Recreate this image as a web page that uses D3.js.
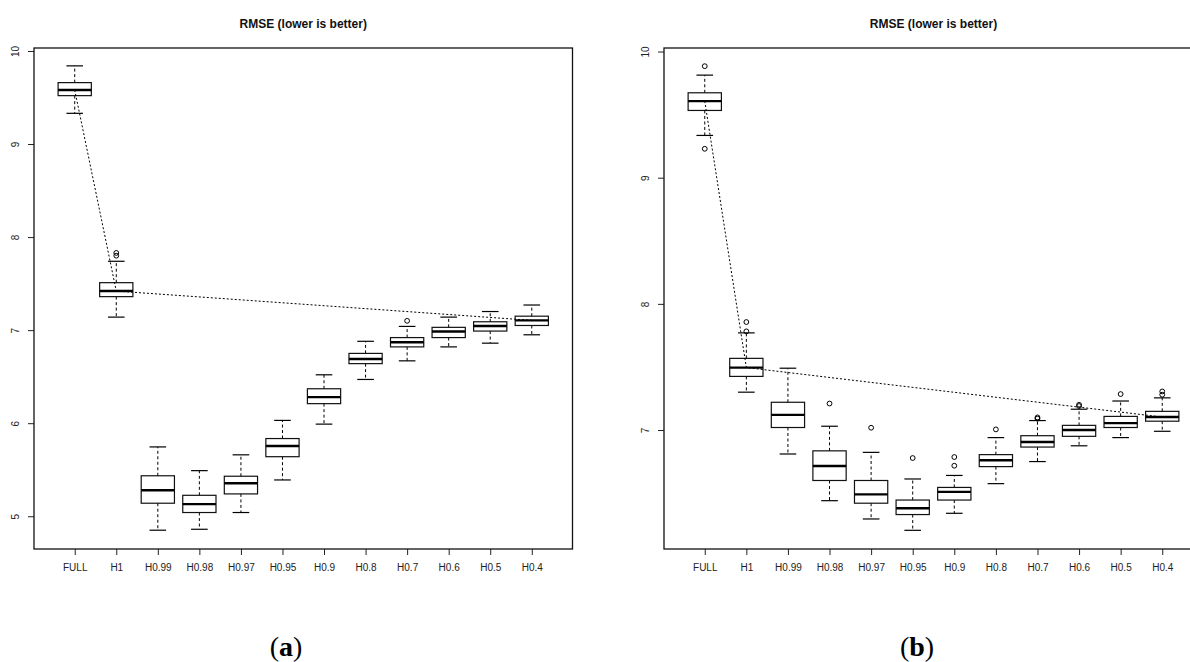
<!DOCTYPE html>
<html>
<head>
<meta charset="utf-8">
<script src="https://cdn.jsdelivr.net/npm/d3@7/dist/d3.min.js"></script>
<style>
    body { margin: 0; background: #fff; }
    svg text { font-family: "Liberation Sans", Arial, Helvetica, sans-serif; }
</style>
</head>
<body>
<div id="chart"></div>
<script>
// categories on the x axis (same for both panels)
const categories = ["FULL", "H1", "H0.99", "H0.98", "H0.97", "H0.95", "H0.9", "H0.8", "H0.7", "H0.6", "H0.5", "H0.4"];

// the dotted line joins the medians of these boxes
const trendCats = ["FULL", "H1", "H0.4"];

// panel (a)
const aTicks = [5, 6, 7, 8, 9, 10];
const aLow = [9.33, 7.14, 4.85, 4.86, 5.04, 5.39, 5.99, 6.47, 6.67, 6.82, 6.86, 6.95];
const aQ1 = [9.52, 7.36, 5.14, 5.04, 5.24, 5.64, 6.21, 6.64, 6.82, 6.92, 6.99, 7.05];
const aMed = [9.58, 7.42, 5.28, 5.13, 5.355, 5.755, 6.28, 6.69, 6.87, 6.985, 7.045, 7.105];
const aQ3 = [9.66, 7.51, 5.435, 5.225, 5.43, 5.835, 6.37, 6.75, 6.92, 7.03, 7.09, 7.15];
const aHigh = [9.84, 7.74, 5.745, 5.49, 5.66, 6.03, 6.52, 6.88, 7.04, 7.14, 7.2, 7.27];
const aOut = [[], [7.83, 7.80], [], [], [], [], [], [], [7.10], [], [], []];

// panel (b)
const bTicks = [7, 8, 9, 10];
const bLow = [9.335, 7.30, 6.81, 6.44, 6.295, 6.205, 6.34, 6.575, 6.75, 6.875, 6.94, 6.99];
const bQ1 = [9.533, 7.425, 7.02, 6.60, 6.42, 6.33, 6.445, 6.71, 6.865, 6.95, 7.02, 7.07];
const bMed = [9.607, 7.495, 7.12, 6.715, 6.49, 6.38, 6.51, 6.76, 6.905, 7.0, 7.055, 7.103];
const bQ3 = [9.673, 7.568, 7.22, 6.835, 6.60, 6.445, 6.545, 6.805, 6.955, 7.037, 7.108, 7.148];
const bHigh = [9.813, 7.77, 7.49, 7.03, 6.823, 6.612, 6.64, 6.94, 7.075, 7.165, 7.23, 7.255];
const bOut = [[9.884, 9.229], [7.856, 7.782], [], [7.21], [7.018], [6.778], [6.786, 6.717], [7.005], [7.10, 7.09], [7.20, 7.19], [7.285], [7.306, 7.28]];

const title = "RMSE (lower is better)";

const width = 1190, height = 662;

const svg = d3.select("#chart").append("svg")
    .attr("width", width)
    .attr("height", height);

function drawPanel(cfg, ticks, low, q1, med, q3, high, outs) {

    const g = svg.append("g");

    const x = d3.scalePoint()
        .domain(categories)
        .range([cfg.left, cfg.right])
        .padding(0.98);   // R boxplot: 0.5 margin + 4% extension

    const y = d3.scaleLinear()
        .domain(cfg.yDomain)
        .range([cfg.bottom, cfg.top]);

    const boxW = x.step() * 0.8;
    const capW = boxW * 0.5;

    const rows = categories.map((c, i) => ({
        cat: c, low: low[i], q1: q1[i], med: med[i], q3: q3[i], high: high[i], out: outs[i]
    }));

    // title
    g.append("text")
        .attr("x", (cfg.left + cfg.right) / 2)
        .attr("y", 27.5)
        .attr("text-anchor", "middle")
        .attr("font-weight", "bold")
        .attr("font-size", "12px")
        .attr("fill", "#111")
        .text(title);

    // y axis
    const yAxis = g.append("g")
        .attr("transform", "translate(" + cfg.left + ",0)")
        .call(d3.axisLeft(y).tickValues(ticks).tickSize(6).tickSizeOuter(0).tickFormat(d3.format("d")));
    yAxis.select(".domain").remove();
    yAxis.selectAll("line").attr("stroke", "#222");
    yAxis.selectAll("text")
        .attr("transform", "rotate(-90)")
        .attr("x", 0)
        .attr("y", -18.5)
        .attr("dy", "0.35em")
        .attr("text-anchor", "middle")
        .attr("font-size", "10px")
        .attr("fill", "#222");

    // x axis
    const xAxis = g.append("g")
        .attr("transform", "translate(0," + cfg.bottom + ")")
        .call(d3.axisBottom(x).tickSize(6).tickSizeOuter(0));
    xAxis.select(".domain").remove();
    xAxis.selectAll("line").attr("stroke", "#222");
    xAxis.selectAll("text")
        .attr("y", 18.3)
        .attr("dy", "0.35em")
        .attr("font-size", "10px")
        .attr("fill", "#222");

    // frame
    g.append("rect")
        .attr("x", cfg.left)
        .attr("y", cfg.top)
        .attr("width", cfg.right - cfg.left)
        .attr("height", cfg.bottom - cfg.top)
        .attr("fill", "none")
        .attr("stroke", "#111")
        .attr("stroke-width", 1.3);

    const box = g.selectAll(".box").data(rows).enter()
        .append("g")
        .attr("class", "box")
        .attr("transform", (d) => "translate(" + x(d.cat) + ",0)");

    // whiskers (dashed)
    box.append("line")
        .attr("x1", 0).attr("x2", 0)
        .attr("y1", (d) => y(d.q3)).attr("y2", (d) => y(d.high))
        .attr("stroke", "#000").attr("stroke-dasharray", "3,2.5");
    box.append("line")
        .attr("x1", 0).attr("x2", 0)
        .attr("y1", (d) => y(d.q1)).attr("y2", (d) => y(d.low))
        .attr("stroke", "#000").attr("stroke-dasharray", "3,2.5");

    // staples
    box.append("line")
        .attr("x1", -capW / 2).attr("x2", capW / 2)
        .attr("y1", (d) => y(d.high)).attr("y2", (d) => y(d.high))
        .attr("stroke", "#000").attr("stroke-width", 1.2);
    box.append("line")
        .attr("x1", -capW / 2).attr("x2", capW / 2)
        .attr("y1", (d) => y(d.low)).attr("y2", (d) => y(d.low))
        .attr("stroke", "#000").attr("stroke-width", 1.2);

    // boxes
    box.append("rect")
        .attr("x", -boxW / 2)
        .attr("width", boxW)
        .attr("y", (d) => y(d.q3))
        .attr("height", (d) => y(d.q1) - y(d.q3))
        .attr("fill", "none")
        .attr("stroke", "#111")
        .attr("stroke-width", 1.2);

    // medians
    box.append("line")
        .attr("x1", -boxW / 2).attr("x2", boxW / 2)
        .attr("y1", (d) => y(d.med)).attr("y2", (d) => y(d.med))
        .attr("stroke", "#000").attr("stroke-width", 2.4);

    // outliers
    box.selectAll("circle")
        .data((d) => d.out)
        .enter()
        .append("circle")
        .attr("cx", 0)
        .attr("cy", (v) => y(v))
        .attr("r", 2.4)
        .attr("fill", "none")
        .attr("stroke", "#000")
        .attr("stroke-width", 1);

    // dotted trend line
    const trend = trendCats.map((c) => rows.find((r) => r.cat === c));
    g.append("path")
        .datum(trend)
        .attr("d", d3.line().x((d) => x(d.cat)).y((d) => y(d.med)))
        .attr("fill", "none")
        .attr("stroke", "#000")
        .attr("stroke-width", 1)
        .attr("stroke-dasharray", "2,2");

    // panel caption
    const cap = svg.append("text")
        .attr("x", cfg.captionX)
        .attr("y", 655.5)
        .attr("text-anchor", "middle")
        .attr("font-size", "28px")
        .style("font-family", "'Liberation Serif', 'Times New Roman', serif");
    cap.append("tspan").text("(");
    cap.append("tspan").attr("font-weight", "bold").text(cfg.caption);
    cap.append("tspan").text(")");
}

drawPanel({ left: 34, right: 572.5, top: 48, bottom: 549, yDomain: [4.648, 10.032], caption: "a", captionX: 286 },
    aTicks, aLow, aQ1, aMed, aQ3, aHigh, aOut);

drawPanel({ left: 664, right: 1203, top: 48, bottom: 549, yDomain: [6.057, 10.028], caption: "b", captionX: 917 },
    bTicks, bLow, bQ1, bMed, bQ3, bHigh, bOut);
</script>
</body>
</html>
